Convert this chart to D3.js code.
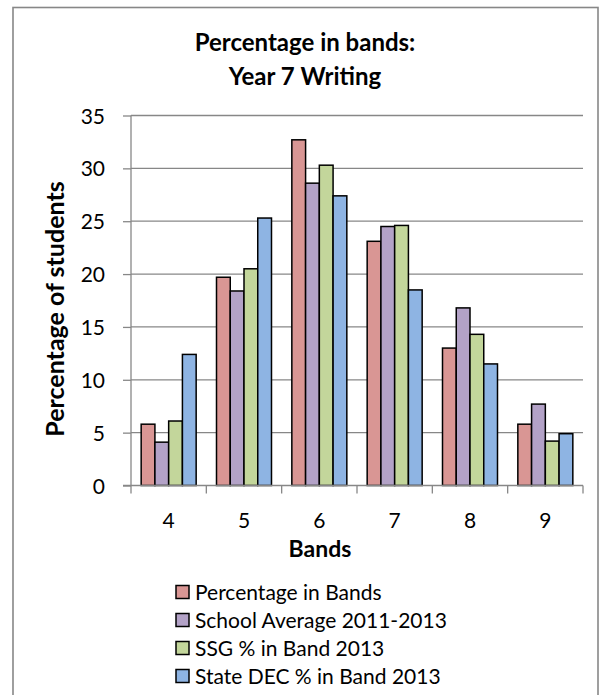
<!DOCTYPE html>
<html><head><meta charset="utf-8">
<script src="https://cdn.jsdelivr.net/npm/d3@7"></script>
<style>body{margin:0;background:#fff}svg{display:block}text{font-family:Lato,"Open Sans",sans-serif;fill:#000}</style>
</head><body>
<script>
const bands = ["4","5","6","7","8","9"];
const seriesNames = ["Percentage in Bands","School Average 2011-2013","SSG % in Band 2013","State DEC % in Band 2013"];
const seriesColors = ["#D99694","#B3A2C7","#C3D69B","#8EB4E3"];
const pctInBands   = [5.8, 19.7, 32.7, 23.1, 13.0, 5.8];
const schoolAvg    = [4.1, 18.4, 28.6, 24.5, 16.8, 7.7];
const ssgInBand    = [6.1, 20.5, 30.3, 24.6, 14.3, 4.2];
const stateDEC     = [12.4, 25.3, 27.4, 18.5, 11.5, 4.9];
const yTicks = [0,5,10,15,20,25,30,35];
const allSeries = [pctInBands, schoolAvg, ssgInBand, stateDEC];

const W=600,H=695;
const svg=d3.select("body").append("svg").attr("width",W).attr("height",H);
svg.append("rect").attr("x",13).attr("y",7.5).attr("width",585).attr("height",700)
  .attr("fill","#fff").attr("stroke","#878787").attr("stroke-width",1.6);

const x0=d3.scaleBand().domain(bands).range([131,583]).paddingInner(0.27).paddingOuter(0.135);
const xCat=d3.scaleBand().domain(bands).range([131,583]);
const x1=d3.scaleBand().domain(d3.range(4)).range([0,x0.bandwidth()]);
const y=d3.scaleLinear().domain([0,35]).range([485.5,115.5]);

// gridlines
svg.append("g").selectAll("line").data(yTicks.filter(t=>t>0)).join("line")
  .attr("x1",131).attr("x2",583).attr("y1",d=>y(d)).attr("y2",d=>y(d))
  .attr("stroke","#878787").attr("stroke-width",1.3);

// y axis
const ya=svg.append("g").attr("transform","translate(131,0)")
  .call(d3.axisLeft(y).tickValues(yTicks).tickSize(8).tickPadding(18).tickFormat(d3.format("d")));
ya.select(".domain").attr("stroke","#878787").attr("stroke-width",1.3).attr("d","M0,115.5V485.5");
ya.selectAll(".tick line").attr("stroke","#878787").attr("stroke-width",1.3);
ya.selectAll(".tick text").attr("font-size",21).attr("font-family","Lato").attr("dy","0.36em");

// bars
const g=svg.append("g");
bands.forEach((b,i)=>{
  allSeries.forEach((s,j)=>{
    g.append("rect").attr("x",x0(b)+x1(j)).attr("y",y(s[i]))
      .attr("width",x1.bandwidth()).attr("height",y(0)-y(s[i]))
      .attr("fill",seriesColors[j]).attr("stroke","#000").attr("stroke-width",1.5);
  });
});

// x axis
const xa=svg.append("g").attr("transform","translate(0,485.5)");
xa.append("line").attr("x1",123).attr("x2",583).attr("stroke","#878787").attr("stroke-width",1.3);
const bounds=bands.map(b=>xCat(b)).concat([583]);
xa.selectAll("line.tk").data(bounds).join("line").attr("class","tk")
  .attr("x1",d=>d).attr("x2",d=>d).attr("y1",0).attr("y2",8)
  .attr("stroke","#878787").attr("stroke-width",1.3);
xa.selectAll("text").data(bands).join("text")
  .attr("x",d=>xCat(d)+xCat.bandwidth()/2).attr("y",42.5).attr("text-anchor","middle")
  .attr("font-size",21).text(d=>d);

// titles
svg.append("text").attr("x",305).attr("y",51).attr("text-anchor","middle")
  .attr("font-size",24).attr("font-weight","bold").text("Percentage in bands:");
svg.append("text").attr("x",305).attr("y",85).attr("text-anchor","middle")
  .attr("font-size",24).attr("font-weight","bold").text("Year 7 Writing");
svg.append("text").attr("x",320).attr("y",557).attr("text-anchor","middle")
  .attr("font-size",23).attr("font-weight","bold").text("Bands");
svg.append("text").attr("transform","translate(64,309) rotate(-90)").attr("text-anchor","middle")
  .attr("font-size",25).attr("font-weight","bold").text("Percentage of students");

// legend
const lg=svg.append("g");
seriesNames.forEach((n,j)=>{
  const cy=592+j*28;
  lg.append("rect").attr("x",176).attr("y",cy-6.5).attr("width",13).attr("height",13)
    .attr("fill",seriesColors[j]).attr("stroke","#000").attr("stroke-width",1.5);
  lg.append("text").attr("x",195).attr("y",cy+7.5).attr("font-size",21).text(n);
});
</script>
</body></html>
